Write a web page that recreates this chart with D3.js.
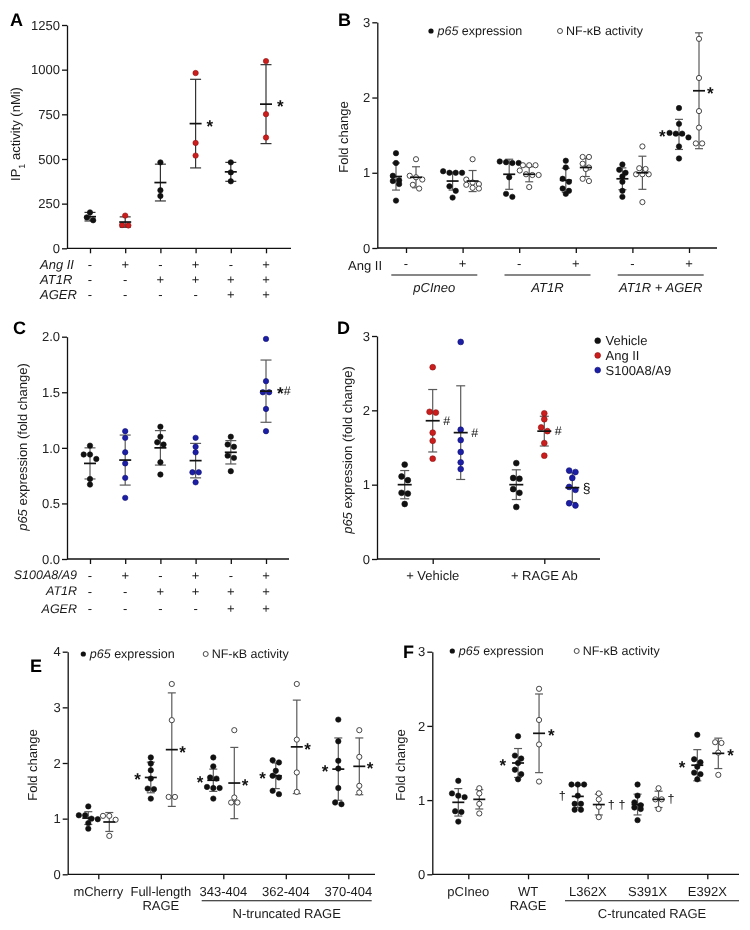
<!DOCTYPE html>
<html><head><meta charset="utf-8">
<script src="https://cdn.jsdelivr.net/npm/d3@7"></script>
<style>body{margin:0;background:#fff}svg{display:block;will-change:transform;transform:translateZ(0)}text{text-rendering:geometricPrecision}</style>
</head><body><svg id="c" width="750" height="930"></svg>
<script>
// ---------------- DATA ----------------
// Panel A
const aRowLabels = ["Ang II", "AT1R", "AGER"];
const aSigns = [["-","+","-","+","-","+"],["-","-","+","+","+","+"],["-","-","-","-","+","+"]];
const aTicks = [0,250,500,750,1000,1250];
const aValues = [[201,173,157],[183,130,128],[481,325,293],[981,590,519],[481,425,375],[1048,751,620]];
const aMeans = [177,147,368,698,428,807];
const aSDs = [24,29,103,248,53,221];
const aMarks = ["","","","*","","*"];
// Panel B
const bSigns = ["-","+","-","+","-","+"];
const bGroups = ["pCIneo","AT1R","AT1R + AGER"];
const bTicks = [0,1,2,3];
const bP65 = [[1.26,1.13,0.96,0.89,0.90,0.85,0.63],[1.0,1.0,1.0,1.02,0.82,0.76,0.67],[1.13,1.13,1.14,1.15,0.94,0.68,0.72],[1.16,1.07,0.92,0.88,0.79,0.76,0.72],[1.11,1.04,1.0,0.95,0.88,0.76,0.68],[1.86,1.65,1.52,1.47,1.52,1.53,1.35,1.19]];
const bP65Mean = [0.95,0.89,0.98,0.90,0.92,1.51];
const bP65SD = [0.18,0.12,0.20,0.16,0.145,0.20];
const bNfkb = [[1.18,0.94,0.96,0.91,0.84,0.79],[1.18,0.85,0.91,0.84,0.87,0.79,0.80],[1.1,1.1,1.1,1.03,0.97,0.98,0.97,0.81],[1.21,1.21,1.07,1.12,1.05,0.89,0.92],[1.35,1.06,1.05,0.98,0.98,0.98,0.61],[2.78,2.26,1.82,1.6,1.39,1.39]];
const bNfkbMean = [0.94,0.89,0.98,1.07,1.0,2.09];
const bNfkbSD = [0.14,0.14,0.10,0.12,0.22,0.77];
const bP65Marks = ["","","","","","*"];
const bNfkbMarks = ["","","","","","*"];
// Panel C
const cRowLabels = ["S100A8/A9","AT1R","AGER"];
const cSigns = [["-","+","-","+","-","+"],["-","-","+","+","+","+"],["-","-","-","-","+","+"]];
const cTicks = [0,0.5,1.0,1.5,2.0];
const cValues = [[1.02,0.94,0.94,0.9,0.72,0.67],[1.15,1.09,0.96,0.86,0.73,0.55],[1.19,1.1,1.05,1.03,0.87,0.76],[1.09,1.01,0.96,0.78,0.78,0.69],[1.1,1.03,1.01,0.93,0.91,0.79],[1.98,1.6,1.5,1.5,1.35,1.15]];
const cMeans = [0.86,0.89,1.0,0.885,0.96,1.51];
const cSDs = [0.14,0.225,0.155,0.155,0.105,0.28];
const cMarks = ["","","","","","*#"];
// Panel D
const dGroups = ["+ Vehicle","+ RAGE Ab"];
const dSeries = ["Vehicle","Ang II","S100A8/A9"];
const dTicks = [0,1,2,3];
const dValues = [
  [[1.27,1.11,1.06,0.89,0.88,0.74],[1.29,1.09,1.08,0.94,0.89,0.70]],
  [[2.58,1.98,1.97,1.70,1.59,1.35],[1.96,1.88,1.77,1.72,1.56,1.39]],
  [[2.92,1.74,1.60,1.44,1.30,1.21],[1.19,1.17,1.09,0.97,0.93,0.75,0.72]]];
const dMeans = [[1.0,1.0],[1.86,1.72],[1.70,0.96]];
const dSDs = [[0.19,0.20],[0.42,0.20],[0.63,0.20]];
const dMarks = [["",""],["#","#"],["#","§"]];
// Panel E
const eCategories = [["mCherry"],["Full-length","RAGE"],["343-404"],["362-404"],["370-404"]];
const eBracket = "N-truncated RAGE";
const eTicks = [0,1,2,3,4];
const eP65 = [[1.22,1.06,1.06,1.0,0.99,0.92,0.82],[2.1,1.99,1.87,1.72,1.54,1.53,1.36],[2.1,1.94,1.74,1.72,1.57,1.55,1.55,1.36],[2.05,2.01,1.86,1.77,1.74,1.5,1.44],[2.78,2.39,2.04,1.9,1.55,1.29,1.26]];
const eP65Mean = [1.01,1.74,1.69,1.77,1.89];
const eP65SD = [0.115,0.275,0.20,0.23,0.56];
const eNfkb = [[1.05,1.05,0.98,0.69],[3.42,2.77,1.39,1.39],[2.59,1.38,1.29,1.29],[3.42,2.42,1.83,1.48],[2.59,2.11,1.59,1.47]];
const eNfkbMean = [0.94,2.24,1.64,2.29,1.94];
const eNfkbSD = [0.17,1.02,0.64,0.84,0.51];
const eP65Marks = ["","*","*","*","*"];
const eNfkbMarks = ["","*","*","*","*"];
// Panel F
const fCategories = [["pCIneo"],["WT","RAGE"],["L362X"],["S391X"],["E392X"]];
const fBracket = "C-truncated RAGE";
const fTicks = [0,1,2,3];
const fP65 = [[1.26,1.09,1.06,1.04,0.85,0.84,0.71],[1.86,1.6,1.56,1.5,1.41,1.35,1.28],[1.21,1.21,1.21,1.06,0.95,0.95,0.87,0.87],[1.21,1.06,0.97,0.93,0.9,0.88,0.73],[1.88,1.55,1.51,1.45,1.37,1.35,1.28]];
const fP65Mean = [0.97,1.5,1.05,0.94,1.47];
const fP65SD = [0.185,0.195,0.15,0.14,0.21];
const fNfkb = [[1.16,1.09,0.95,0.82],[2.5,2.08,1.75,1.25],[1.09,1.01,0.91,0.77],[1.16,1.01,1.01,0.88],[1.78,1.77,1.64,1.34]];
const fNfkbMean = [1.01,1.9,0.94,1.01,1.63];
const fNfkbSD = [0.13,0.53,0.14,0.11,0.205];
const fP65Marks = ["","*","†","†","*"];
const fNfkbMarks = ["","*","†","†","*"];
const p65Label = ["p65"," expression"];
const nfkbLabel = "NF-κB activity";

// ---------------- DRAWING ----------------
const FONT = '"Liberation Sans", Arial, Helvetica, sans-serif';
const RED = "#cc1d1d", RED_S = "#8e1010", BLUE = "#1c1fa6", BLUE_S = "#0d0f70", BLACK = "#111";
const svg = d3.select("#c").attr("font-family", FONT);

function text(x, y, s, o = {}) {
  const t = svg.append("text").attr("x", x).attr("y", y).text(s)
    .attr("font-size", o.size || 13).attr("fill", o.fill || "#1a1a1a")
    .attr("text-anchor", o.anchor || "start");
  if (o.italic) t.attr("font-style", "italic");
  if (o.bold) t.attr("font-weight", "bold");
  if (o.dy !== undefined) t.attr("dy", o.dy); else t.attr("dy", "0.35em");
  return t;
}
function panelLetter(x, y, s) { text(x, y, s, {size: 18, bold: true, dy: 0, fill: "#000"}); }

function yAxis(x, scale, ticks, fmt) {
  const g = svg.append("g").attr("transform", `translate(${x},0)`)
    .call(d3.axisLeft(scale).tickValues(ticks).tickFormat(fmt).tickSize(5).tickSizeOuter(0).tickPadding(2));
  g.attr("font-family", FONT).attr("font-size", 13);
  g.select(".domain").attr("stroke", BLACK).attr("stroke-width", 1.3);
  g.selectAll(".tick line").attr("stroke", BLACK).attr("stroke-width", 1.3);
  g.selectAll(".tick text").attr("fill", "#222");
}
function xAxis(y, x0, x1, scale) {
  svg.append("line").attr("x1", x0).attr("x2", x1).attr("y1", y).attr("y2", y)
    .attr("stroke", BLACK).attr("stroke-width", 1.3);
  const g = svg.append("g").attr("transform", `translate(0,${y})`)
    .call(d3.axisBottom(scale).tickSize(5).tickSizeOuter(0).tickFormat(""));
  g.select(".domain").remove();
  g.selectAll(".tick line").attr("stroke", BLACK).attr("stroke-width", 1.3);
}
function swarm(vals, y, cx, thr = 4.6, sp = 6.3) {
  const pts = vals.map(v => ({v, py: y(v)})).sort((a, b) => a.py - b.py);
  const rows = []; let cur = null;
  pts.forEach(p => { if (cur && p.py - cur[0].py < thr) cur.push(p); else { cur = [p]; rows.push(cur); } });
  rows.forEach(r => r.forEach((p, i) => p.px = cx + (i - (r.length - 1) / 2) * sp));
  return pts;
}
function group(cx, y, vals, mean, sd, o = {}) {
  const g = svg.append("g");
  const bar = o.bar || "#5a5a5a", cap = o.cap || 9, mw = o.meanW || 13;
  g.append("line").attr("x1", cx).attr("x2", cx).attr("y1", y(mean + sd)).attr("y2", y(mean - sd))
    .attr("stroke", bar).attr("stroke-width", 1.2);
  [mean + sd, mean - sd].forEach(v => g.append("line").attr("x1", cx - cap / 2).attr("x2", cx + cap / 2)
    .attr("y1", y(v)).attr("y2", y(v)).attr("stroke", bar).attr("stroke-width", 1.2));
  const pts = swarm(vals, y, cx);
  g.selectAll("circle").data(pts).join("circle")
    .attr("cx", d => d.px).attr("cy", d => d.py).attr("r", o.open ? 2.6 : (o.r || 2.7))
    .attr("fill", o.open ? "#fff" : (o.fill || BLACK))
    .attr("stroke", o.open ? "#333" : (o.stroke || BLACK)).attr("stroke-width", o.open ? 0.9 : 0.6);
  g.append("line").attr("x1", cx - mw / 2).attr("x2", cx + mw / 2).attr("y1", y(mean)).attr("y2", y(mean))
    .attr("stroke", "#111").attr("stroke-width", 1.7);
}
function mark(x, y, s, anchor) {
  if (!s) return;
  const t = svg.append("text").attr("x", x).attr("y", y).attr("text-anchor", anchor || "start").attr("fill", "#111");
  for (const ch of s) {
    if (ch === "*") t.append("tspan").text("*").attr("font-size", 17).attr("font-weight", "bold").attr("baseline-shift", "-0.45em");
    else t.append("tspan").text(ch).attr("font-size", ch === "§" ? 14 : 12.5).attr("baseline-shift", "-0.35em");
  }
}
function legendP65(x, y, size) {
  svg.append("circle").attr("cx", x).attr("cy", y).attr("r", 2.6).attr("fill", BLACK);
  const t = svg.append("text").attr("x", x + 6.5).attr("y", y).attr("dy", "0.35em").attr("font-size", size).attr("fill", "#1a1a1a");
  t.append("tspan").text(p65Label[0]).attr("font-style", "italic");
  t.append("tspan").text(p65Label[1]);
}
function legendNfkb(x, y, size) {
  svg.append("circle").attr("cx", x).attr("cy", y).attr("r", 2.5).attr("fill", "#fff").attr("stroke", "#333").attr("stroke-width", 0.9);
  svg.append("text").attr("x", x + 6).attr("y", y).attr("dy", "0.35em").attr("font-size", size).attr("fill", "#1a1a1a").text(nfkbLabel);
}
function p65Title(x, y) {
  const t = svg.append("text").attr("transform", `translate(${x},${y}) rotate(-90)`).attr("text-anchor", "middle")
    .attr("font-size", 13).attr("fill", "#1a1a1a");
  t.append("tspan").text(p65Label[0]).attr("font-style", "italic");
  t.append("tspan").text(p65Label[1] + " (fold change)");
}
function foldTitle(x, y) {
  svg.append("text").attr("transform", `translate(${x},${y}) rotate(-90)`).attr("text-anchor", "middle")
    .attr("font-size", 13).attr("fill", "#1a1a1a").text("Fold change");
}

// ----- Panel A -----
{
  const y = d3.scaleLinear().domain([0, 1250]).range([248.3, 25]);
  const x = d3.scalePoint().domain(d3.range(6)).range([90, 266]);
  panelLetter(10, 26, "A");
  yAxis(67, y, aTicks, d3.format("d"));
  xAxis(248.3, 67, 291, x);
  const t = svg.append("text").attr("transform", "translate(20,134) rotate(-90)").attr("text-anchor", "middle")
    .attr("font-size", 13).attr("fill", "#1a1a1a");
  t.append("tspan").text("IP");
  t.append("tspan").text("1").attr("font-size", 9).attr("baseline-shift", "sub");
  t.append("tspan").text(" activity (nMi)");
  aValues.forEach((v, i) => {
    const isRed = aSigns[0][i] === "+";
    group(x(i), y, v, aMeans[i], aSDs[i], {fill: isRed ? RED : BLACK, stroke: isRed ? RED_S : BLACK, bar: "#333", cap: 11, meanW: 12});
    mark(x(i) + 11, y(aMeans[i]), aMarks[i]);
  });
  const rowY = [264, 279, 294];
  aRowLabels.forEach((l, r) => {
    text(40, rowY[r], l, {italic: true});
    aSigns[r].forEach((s, i) => text(x(i), rowY[r], s, {anchor: "middle"}));
  });
}
// ----- Panel B -----
{
  const y = d3.scaleLinear().domain([0, 3]).range([248, 22.3]);
  const x = d3.scalePoint().domain(d3.range(6)).range([406, 689]);
  panelLetter(338, 26, "B");
  yAxis(377.3, y, bTicks, d3.format("d"));
  xAxis(248, 377.3, 717, x);
  foldTitle(348, 137);
  legendP65(431, 31, 12.5);
  legendNfkb(560, 31, 12.5);
  bP65.forEach((v, i) => {
    group(x(i) - 10, y, v, bP65Mean[i], bP65SD[i], {cap: 8, meanW: 12});
    group(x(i) + 10, y, bNfkb[i], bNfkbMean[i], bNfkbSD[i], {open: true, cap: 8, meanW: 12});
    mark(x(i) - 23.5, y(bP65Mean[i]), bP65Marks[i], "end");
    mark(x(i) + 18, y(bNfkbMean[i]), bNfkbMarks[i]);
    text(x(i), 263, bSigns[i], {anchor: "middle"});
  });
  text(382, 265, "Ang II", {anchor: "end"});
  bGroups.forEach((gname, k) => {
    const cx = (x(2 * k) + x(2 * k + 1)) / 2;
    svg.append("line").attr("x1", cx - 43).attr("x2", cx + 43).attr("y1", 275).attr("y2", 275).attr("stroke", BLACK).attr("stroke-width", 1.1);
    text(cx, 287, gname, {anchor: "middle", italic: true});
  });
}
// ----- Panel C -----
{
  const y = d3.scaleLinear().domain([0, 2]).range([559, 336.7]);
  const x = d3.scalePoint().domain(d3.range(6)).range([90, 266]);
  panelLetter(13, 334, "C");
  yAxis(67, y, cTicks, d3.format(".1f"));
  xAxis(559, 67, 289, x);
  p65Title(27, 447);
  cValues.forEach((v, i) => {
    const isBlue = cSigns[0][i] === "+";
    group(x(i), y, v, cMeans[i], cSDs[i], {fill: isBlue ? BLUE : BLACK, stroke: isBlue ? BLUE_S : BLACK, cap: 11, meanW: 12});
    mark(x(i) + 11, y(cMeans[i]), cMarks[i]);
  });
  const rowY = [575, 591, 608.5];
  cRowLabels.forEach((l, r) => {
    text(77, rowY[r], l, {italic: true, anchor: "end", size: 12.5});
    cSigns[r].forEach((s, i) => text(x(i), rowY[r], s, {anchor: "middle"}));
  });
}
// ----- Panel D -----
{
  const y = d3.scaleLinear().domain([0, 3]).range([559, 336]);
  const x = d3.scalePoint().domain(d3.range(2)).range([432.7, 544.3]);
  const off = d3.scalePoint().domain(d3.range(3)).range([-28, 28]);
  const fills = [BLACK, RED, BLUE], strokes = [BLACK, RED_S, BLUE_S];
  panelLetter(337, 334, "D");
  yAxis(377, y, dTicks, d3.format("d"));
  xAxis(559, 377, 600, x);
  p65Title(352, 450);
  dSeries.forEach((s, k) => {
    dGroups.forEach((gname, j) => {
      const cx = x(j) + off(k);
      group(cx, y, dValues[k][j], dMeans[k][j], dSDs[k][j], {fill: fills[k], stroke: strokes[k], cap: 9, meanW: 14, r: 2.9});
      mark(cx + 10.5, y(dMeans[k][j]), dMarks[k][j]);
    });
    const ly = 340.7 + k * 14.7;
    svg.append("circle").attr("cx", 597.7).attr("cy", ly).attr("r", 2.9).attr("fill", fills[k]).attr("stroke", strokes[k]).attr("stroke-width", 0.6);
    text(605.5, ly, s, {size: 13});
  });
  dGroups.forEach((gname, j) => text(x(j), 575, gname, {anchor: "middle"}));
}
// ----- Panel E & F -----
function truncPanel(P) {
  const y = d3.scaleLinear().domain([0, P.ticks[P.ticks.length - 1]]).range([874.3, 651.7]);
  const x = d3.scalePoint().domain(d3.range(5)).range(P.xr);
  panelLetter(P.lx, P.ly, P.letter);
  yAxis(P.ax, y, P.ticks, d3.format("d"));
  xAxis(874.3, P.ax, P.xend, x);
  foldTitle(P.tx, 765);
  legendP65(P.leg[0], P.leg[2], 12.5);
  legendNfkb(P.leg[1], P.leg[2], 12.5);
  P.p65.forEach((v, i) => {
    group(x(i) - 10, y, v, P.p65Mean[i], P.p65SD[i], {cap: 8, meanW: 12});
    group(x(i) + 11, y, P.nf[i], P.nfMean[i], P.nfSD[i], {open: true, cap: 8, meanW: 12});
    mark(x(i) - P.mo[0], y(P.p65Mean[i]), P.p65Marks[i], "end");
    mark(x(i) + P.mo[1], y(P.nfMean[i]), P.nfMarks[i]);
    P.cats[i].forEach((line, l) => text(x(i), 891.7 + l * 13.5, line, {anchor: "middle"}));
  });
  svg.append("line").attr("x1", P.br[0]).attr("x2", P.br[1]).attr("y1", 900.7).attr("y2", 900.7).attr("stroke", BLACK).attr("stroke-width", 1.1);
  text((P.br[0] + P.br[1]) / 2, 913, P.bracket, {anchor: "middle"});
}
truncPanel({letter: "E", lx: 30, ly: 672, ax: 67.7, xend: 375, xr: [98.3, 348.3], tx: 37, leg: [83.3, 205.7, 654], mo: [20, 18.5],
  ticks: eTicks, cats: eCategories, bracket: eBracket, br: [201.7, 371.7],
  p65: eP65, p65Mean: eP65Mean, p65SD: eP65SD, nf: eNfkb, nfMean: eNfkbMean, nfSD: eNfkbSD, p65Marks: eP65Marks, nfMarks: eNfkbMarks});
truncPanel({letter: "F", lx: 403, ly: 658, ax: 432.3, xend: 739, xr: [468.3, 707.3], tx: 405, leg: [452.3, 576.7, 651], mo: [22, 20],
  ticks: fTicks, cats: fCategories, bracket: fBracket, br: [565, 739],
  p65: fP65, p65Mean: fP65Mean, p65SD: fP65SD, nf: fNfkb, nfMean: fNfkbMean, nfSD: fNfkbSD, p65Marks: fP65Marks, nfMarks: fNfkbMarks});
</script></body></html>
